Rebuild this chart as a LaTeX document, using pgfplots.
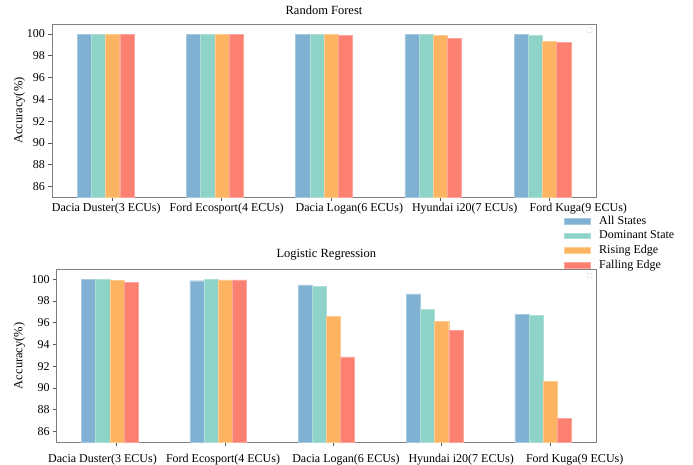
\documentclass[border=0pt]{standalone}
\usepackage{fontspec}
\setmainfont{Liberation Serif}
\usepackage{pgfplots}
\pgfplotsset{compat=1.18}
\definecolor{cblue}{HTML}{80B1D3}
\definecolor{cteal}{HTML}{8DD3C7}
\definecolor{corange}{HTML}{FDB462}
\definecolor{cred}{HTML}{FB8072}
\pgfplotsset{
  mystyle/.style={
    scale only axis,
    ybar, bar width=0.13,
    xmin=-0.49, xmax=4.49, ymin=85, ymax=100.92,
    xtick={0.064,1.064,2.064,3.064,4.064},
    xticklabels={},
    extra x tick labels={Dacia Duster(3 ECUs),Ford Ecosport(4 ECUs),Dacia Logan(6 ECUs),Hyundai i20(7 ECUs),Ford Kuga(9 ECUs)},
    extra x tick style={tick style={draw opacity=0}},
    ytick={86,88,...,100},
    tick pos=left, tick align=outside, major tick length=3.5pt,
    tick style={gray!70!black, line width=0.6pt},
    axis line style={gray, line width=0.8pt},
    tick label style={font=\fontsize{12}{14}\selectfont},
    /pgf/number format/assume math mode=true,
    title style={font=\fontsize{12.5}{14}\selectfont, yshift=-0.5pt},
    ylabel style={font=\fontsize{12.5}{14}\selectfont},
    legend image code/.code={\fill[##1] (0pt,-2.8pt) rectangle (26pt,2.8pt);},
  },
  b1/.style={fill=cblue, draw=cblue!70!white, line width=0.4pt, bar shift=-0.195},
  b2/.style={fill=cteal, draw=cteal!70!white, line width=0.4pt, bar shift=-0.065},
  b3/.style={fill=corange, draw=corange!70!white, line width=0.4pt, bar shift=0.065},
  b4/.style={fill=cred, draw=cred!70!white, line width=0.4pt, bar shift=0.195},
}
\begin{document}
\begin{tikzpicture}
\useasboundingbox (0pt,0pt) rectangle (693pt,465pt);
\begin{axis}[mystyle,
  at={(52pt,267.7pt)}, anchor=south west,
  width=544pt, height=173.3pt,
  extra x ticks={0.007,1.109,2.232,3.288,4.328},
  xticklabel style={yshift=1.5pt},
  title={Random Forest},
  ylabel={Accuracy(\%)},
  ylabel style={at={(axis description cs:-0.06,0.5)}, anchor=center},
  legend style={at={(axis description cs:0.935,-0.085)}, anchor=north west, draw=none, fill=none,
    font=\fontsize{12}{14}\selectfont, row sep=1pt,
    /tikz/every odd column/.append style={column sep=7pt}},
  legend cell align=left,
]
\addplot[b1] coordinates {(0,100) (1,100) (2,100) (3,99.94) (4,99.94)};
\addplot[b2] coordinates {(0,100) (1,100) (2,100) (3,99.94) (4,99.85)};
\addplot[b3] coordinates {(0,100) (1,100) (2,99.94) (3,99.9) (4,99.3)};
\addplot[b4] coordinates {(0,100) (1,100) (2,99.85) (3,99.6) (4,99.24)};
\legend{All States,Dominant State,Rising Edge,Falling Edge}
\node[draw=gray!35, rounded corners=1pt, inner sep=0pt, minimum size=5pt] at (rel axis cs:0.988,0.964) {};
\end{axis}
\begin{axis}[mystyle,
  at={(56.7pt,22.7pt)}, anchor=south west,
  width=539.3pt, height=173pt,
  extra x ticks={-0.067,1.046,2.181,3.245,4.293},
  xticklabel style={yshift=-4.5pt},
  title={Logistic Regression},
  ylabel={Accuracy(\%)},
  ylabel style={at={(axis description cs:-0.069,0.5)}, anchor=center},
]
\addplot[b1] coordinates {(0,100) (1,99.87) (2,99.48) (3,98.66) (4,96.8)};
\addplot[b2] coordinates {(0,100) (1,99.98) (2,99.36) (3,97.26) (4,96.67)};
\addplot[b3] coordinates {(0,99.9) (1,99.94) (2,96.58) (3,96.16) (4,90.6)};
\addplot[b4] coordinates {(0,99.72) (1,99.94) (2,92.86) (3,95.33) (4,87.19)};
\node[draw=gray!35, rounded corners=1pt, inner sep=0pt, minimum size=5pt] at (rel axis cs:0.988,0.964) {};
\end{axis}
\end{tikzpicture}
\end{document}
